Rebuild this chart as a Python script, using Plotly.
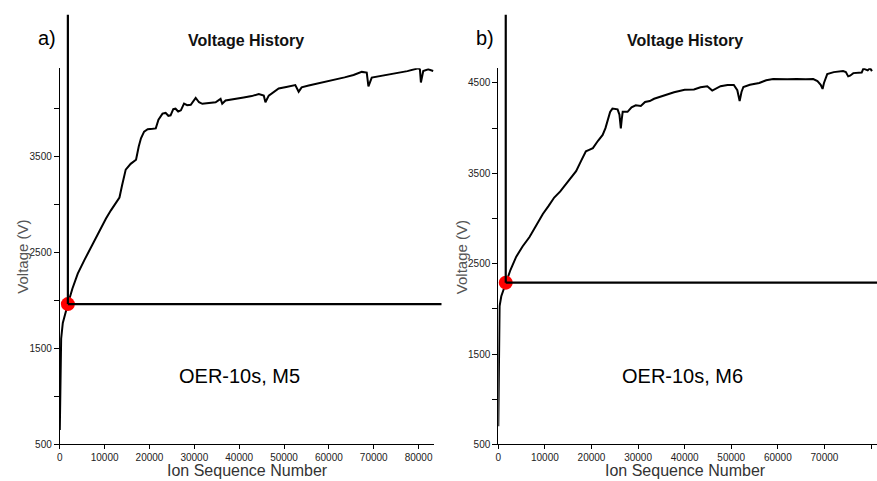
import plotly.graph_objects as go

W, H = 877, 481

# ---------------- data ----------------
m5_ion = [0, 60, 150, 300, 670, 1400, 1800, 2800, 4000, 5500, 7000, 8000, 9200, 10300, 11400,
          12400, 13300, 13900, 14700, 15800, 17000, 17600, 18100, 18800, 19600, 20700, 21400,
          22000, 22900, 23600, 24200, 24700, 25300, 25800, 26400, 27000, 27700, 28400, 29200,
          30300, 31040, 31780, 33200, 34740, 35850, 36220, 36960, 38000, 39180, 41000, 42800,
          44370, 45480, 45850, 46590, 47800, 48810, 50500, 52510, 53260, 53930, 55500, 56960,
          59000, 61400, 63500, 65500, 67330, 68440, 68820, 69560, 71500, 73500, 75490, 77500,
          79930, 80300, 80520, 81040, 82150, 83260]
m5_volt = [650, 900, 1200, 1600, 1764, 1908, 1960, 2120, 2278, 2420, 2555, 2650, 2761, 2850, 2936,
           3010, 3069, 3200, 3360, 3420, 3463, 3600, 3686, 3755, 3780, 3785, 3789, 3880, 3943,
           3950, 3920, 3925, 3990, 3994, 3965, 3977, 4046, 4030, 4035, 4106, 4061, 4045, 4050,
           4061, 4096, 4045, 4079, 4085, 4096, 4110, 4125, 4147, 4130, 4061, 4130, 4170, 4205,
           4220, 4240, 4171, 4216, 4235, 4250, 4270, 4295, 4320, 4345, 4377, 4370, 4226, 4318,
           4335, 4350, 4363, 4385, 4415, 4404, 4267, 4387, 4404, 4387]

m6_ion = [0, 200, 280, 640, 1350, 1700, 2600, 3850, 5200, 6700, 8100, 9560, 10800, 12000, 13300,
          14500, 15600, 16700, 17800, 18800, 19500, 20300, 21400, 22400, 23000, 23500, 24000,
          24500, 25100, 25600, 26000, 26300, 26500, 26700, 27740, 28600, 29500, 30590, 31500,
          32500, 33440, 35000, 36500, 37720, 40000, 42000, 43400, 44850, 45920, 47700, 49200,
          50550, 51300, 51800, 52200, 52600, 54000, 56000, 57500, 59000, 62000, 64000, 66000,
          67600, 68500, 69200, 69600, 69900, 70600, 72000, 74000, 74600, 75100, 75500, 76200,
          78000, 78360, 79300, 79800, 80200]
m6_volt = [700, 1460, 2030, 2139, 2249, 2285, 2430, 2577, 2690, 2795, 2920, 3050, 3140, 3232, 3300,
           3378, 3450, 3524, 3640, 3743, 3760, 3779, 3860, 3924, 4000, 4107, 4180, 4216, 4216,
           4208, 4150, 3997, 4100, 4180, 4180, 4230, 4252, 4245, 4290, 4300, 4325, 4350, 4380,
           4398, 4425, 4427, 4453, 4464, 4416, 4464, 4478, 4478, 4420, 4300, 4400, 4456, 4480,
           4500, 4530, 4543, 4540, 4545, 4540, 4543, 4520, 4480, 4434, 4500, 4598, 4620, 4631,
           4620, 4573, 4580, 4609, 4615, 4660, 4640, 4664, 4631]

m5_point = (1800, 1960)
m6_point = (1600, 2290)

y_tick_vals = [500, 1000, 1500, 2000, 2500, 3000, 3500, 4000, 4500]
y_tick_text = ["500", "", "1500", "", "2500", "", "3500", "", "4500"]
x_tick_vals = [0, 10000, 20000, 30000, 40000, 50000, 60000, 70000, 80000]
x_tick_text = ["0", "10000", "20000", "30000", "40000", "50000", "60000", "70000", "80000"]

panel_labels = ["a)", "b)"]
panel_titles = ["Voltage History", "Voltage History"]
sample_labels = ["OER-10s, M5", "OER-10s, M6"]
x_title = "Ion Sequence Number"
y_title = "Voltage (V)"

# ---------------- layout geometry (pixels) ----------------
def px(x):
    return x / W

def py(y):
    return 1 - y / H

left_xdom = [px(57), px(432.75)]
left_xrange = [0, 83500]
left_yrange = [500, 4416]
right_xdom = [px(497), 1.0]
right_xrange = [0, 81283]
right_yrange = [500, 4664]
ydom = [py(450), py(69)]


def y_to_paper(v, rng):
    return ydom[0] + (v - rng[0]) / (rng[1] - rng[0]) * (ydom[1] - ydom[0])


def x_to_paper(v, rng, dom):
    return dom[0] + (v - rng[0]) / (rng[1] - rng[0]) * (dom[1] - dom[0])


fig = go.Figure()

fig.add_trace(go.Scatter(x=m5_ion, y=m5_volt, mode="lines", line=dict(color="black", width=2),
                         xaxis="x", yaxis="y", showlegend=False, hoverinfo="skip"))
fig.add_trace(go.Scatter(x=m6_ion, y=m6_volt, mode="lines", line=dict(color="black", width=2),
                         xaxis="x2", yaxis="y2", showlegend=False, hoverinfo="skip"))

shapes = []
for (pt, xr, yr, dom, xa, ya, xend) in [
    (m5_point, left_xrange, left_yrange, left_xdom, "x", "y", px(440)),
    (m6_point, right_xrange, right_yrange, right_xdom, "x2", "y2", 1.0),
]:
    shapes.append(dict(type="line", xref=xa, yref="paper", x0=pt[0], x1=pt[0],
                       y0=y_to_paper(pt[1], yr), y1=py(15), line=dict(color="black", width=2.2)))
    shapes.append(dict(type="line", xref="paper", yref=ya, x0=x_to_paper(pt[0], xr, dom), x1=xend,
                       y0=pt[1], y1=pt[1], line=dict(color="black", width=2.2)))

fig.add_trace(go.Scatter(x=[m5_point[0]], y=[m5_point[1]], mode="markers",
                         marker=dict(color="#ff0000", size=14), xaxis="x", yaxis="y",
                         showlegend=False, hoverinfo="skip", cliponaxis=False))
fig.add_trace(go.Scatter(x=[m6_point[0]], y=[m6_point[1]], mode="markers",
                         marker=dict(color="#ff0000", size=14), xaxis="x2", yaxis="y2",
                         showlegend=False, hoverinfo="skip", cliponaxis=False))

axis_common = dict(showgrid=False, zeroline=False, showline=True, linecolor="black", linewidth=1,
                   ticks="outside", tickcolor="black", tickwidth=1,
                   tickfont=dict(family="Liberation Sans, Arial", size=10, color="#222222"))

fig.update_layout(
    width=W, height=H,
    margin=dict(l=0, r=0, t=0, b=0),
    paper_bgcolor="white", plot_bgcolor="white",
    shapes=shapes,
    xaxis=dict(domain=left_xdom, range=left_xrange, anchor="y", tickvals=x_tick_vals,
               ticktext=x_tick_text, ticklen=4, **axis_common),
    yaxis=dict(domain=ydom, range=left_yrange, anchor="x", tickvals=y_tick_vals,
               ticktext=y_tick_text, ticklen=5, **axis_common),
    xaxis2=dict(domain=right_xdom, range=right_xrange, anchor="y2", tickvals=x_tick_vals,
                ticktext=x_tick_text, ticklen=4, **axis_common),
    yaxis2=dict(domain=ydom, range=right_yrange, anchor="x2", tickvals=y_tick_vals,
                ticktext=y_tick_text, ticklen=5, **axis_common),
)

annotations = []
for i, off in enumerate([0, 440]):
    annotations.append(dict(text=panel_labels[i], xref="paper", yref="paper", x=px(44 + off), y=py(38),
                            showarrow=False, xanchor="center", yanchor="middle",
                            font=dict(family="Liberation Sans, Arial", size=20, color="black")))
    annotations.append(dict(text="<b>" + panel_titles[i] + "</b>", xref="paper", yref="paper",
                            x=px(244 + off), y=py(41), showarrow=False, xanchor="center",
                            yanchor="middle",
                            font=dict(family="Liberation Sans, Arial", size=16, color="#111111")))
    annotations.append(dict(text=sample_labels[i], xref="paper", yref="paper", x=px(237 + off + (5 if i else 0)),
                            y=py(381), showarrow=False, xanchor="center", yanchor="middle",
                            font=dict(family="Liberation Sans, Arial", size=20, color="black")))
    annotations.append(dict(text=x_title, xref="paper", yref="paper", x=px(245 + off), y=py(476),
                            showarrow=False, xanchor="center", yanchor="middle",
                            font=dict(family="Liberation Sans, Arial", size=16, color="#333333")))
    annotations.append(dict(text=y_title, xref="paper", yref="paper", x=px(20 + off), y=py(260),
                            showarrow=False, xanchor="center", yanchor="middle", textangle=-90,
                            font=dict(family="Liberation Sans, Arial", size=15, color="#555555")))

fig.update_layout(annotations=annotations)

fig.write_html("out.html")
